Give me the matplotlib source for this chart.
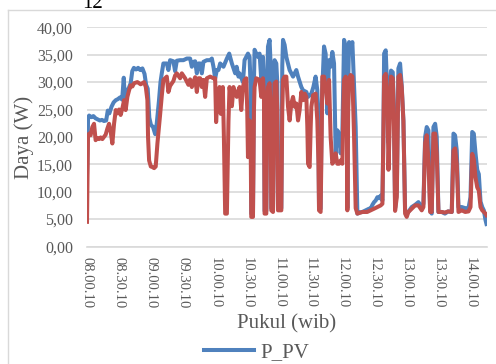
import matplotlib.pyplot as plt
from matplotlib.lines import Line2D

# time in minutes after 08.00.10, power in watt
t_pv = [0, 0.5, 1.0, 2.0, 4.0, 6.0, 8.0, 10.0, 12.0, 14.0,
        16.0, 18.0, 19.5, 21.0, 23.0, 25.0, 27.0, 29.0, 31.0, 33.0,
        34.5, 35.5, 37.0, 39.0, 41.0, 42.5, 44.0, 46.0, 48.0, 50.0,
        52.0, 54.0, 55.5, 57.0, 58.5, 60.0, 62.0, 64.0, 65.5, 67.5,
        69.0, 70.2, 71.7, 74.9, 76.4, 78.0, 81.1, 82.7, 84.3, 87.4,
        90.5, 93.7, 96.8, 98.4, 100.0, 101.5, 103.1, 104.6, 106.2, 107.8,
        109.3, 112.5, 115.6, 117.2, 118.7, 120.3, 121.9, 123.4, 125.0, 128.1,
        131.3, 133.5, 136.0, 139.1, 140.5, 142.2, 143.2, 146.4, 147.9, 151.1,
        152.6, 153.6, 154.2, 155.8, 156.7, 157.3, 158.9, 160.5, 162.0, 163.6,
        165.2, 166.1, 166.7, 168.3, 169.2, 169.9, 171.4, 172.4, 173.0, 174.6,
        175.5, 176.1, 177.7, 178.6, 179.3, 182.4, 183.3, 184.0, 185.5, 187.1,
        188.7, 190.2, 191.8, 193.4, 196.5, 198.1, 201.2, 202.8, 205.9, 207.5,
        210.6, 212.5, 214.6, 216.2, 217.3, 217.8, 219.3, 220.3, 222.5, 224.0,
        225.6, 227.2, 228.7, 230.3, 231.9, 233.4, 235.0, 236.6, 238.1, 239.7,
        240.6, 241.3, 242.8, 243.8, 244.4, 245.2, 246.0, 247.5, 249.1, 250.7,
        252.2, 253.8, 255.4, 258.5, 261.6, 264.8, 266.3, 267.9, 269.5, 271.0,
        272.6, 274.2, 275.7, 277.3, 278.2, 278.9, 280.4, 281.5, 282.9, 284.0,
        285.4, 287.0, 288.0, 289.2, 290.8, 292.3, 293.9, 295.4, 297.0, 298.6,
        300.1, 301.7, 304.8, 308.0, 311.1, 314.2, 315.8, 317.4, 318.9, 320.5,
        322.1, 323.6, 325.2, 326.8, 328.3, 329.9, 333.0, 336.0, 339.0, 342.4,
        344.0, 345.5, 347.1, 348.7, 351.8, 355.0, 358.1, 360.0, 361.6, 363.1,
        364.7, 366.3, 367.8, 369.4, 371.0, 372.5, 374.1, 375.0]
p_pv = [13.0, 17.0, 23.5, 23.9, 23.6, 23.8, 23.4, 23.2, 23.0, 23.1,
        22.9, 23.0, 24.8, 24.3, 25.5, 26.3, 26.7, 26.9, 27.2, 26.8,
        30.8, 27.0, 28.5, 28.8, 29.8, 32.0, 32.6, 32.3, 32.6, 32.2,
        32.5, 31.5, 29.5, 28.8, 23.5, 22.2, 21.8, 20.5, 22.5, 26.5,
        30.0, 31.6, 33.4, 33.4, 32.2, 34.0, 33.8, 32.0, 33.9, 34.0,
        34.0, 34.3, 34.3, 32.8, 33.7, 33.8, 31.6, 33.4, 33.4, 31.6,
        33.7, 34.0, 34.0, 34.3, 32.8, 30.7, 32.2, 32.2, 33.4, 32.8,
        34.3, 35.2, 33.4, 31.6, 32.8, 31.0, 31.6, 30.0, 34.0, 35.2,
        34.6, 29.1, 6.0, 6.0, 30.0, 35.9, 35.2, 34.6, 35.2, 30.4,
        34.6, 30.0, 6.5, 6.5, 30.0, 36.5, 37.7, 33.0, 7.0, 7.0,
        30.0, 34.0, 33.4, 30.0, 7.0, 7.0, 33.0, 37.7, 36.8, 34.6,
        33.4, 32.2, 31.6, 31.0, 32.2, 31.0, 29.1, 28.5, 28.2, 27.3,
        27.9, 29.1, 31.0, 28.5, 20.0, 7.2, 6.9, 26.0, 36.5, 35.2,
        24.3, 34.0, 32.8, 35.5, 33.4, 17.0, 21.2, 20.6, 17.0, 20.6,
        30.0, 37.7, 36.5, 30.0, 7.0, 30.0, 37.3, 36.0, 37.3, 29.1,
        21.8, 6.0, 6.2, 6.3, 6.6, 6.9, 6.9, 7.6, 8.1, 8.4,
        9.0, 8.8, 9.3, 8.4, 20.0, 35.2, 35.8, 30.0, 19.0, 28.0,
        32.1, 31.8, 26.0, 7.0, 10.0, 32.5, 33.4, 29.4, 23.0, 6.6,
        6.0, 6.3, 7.2, 7.6, 8.1, 7.2, 7.8, 20.0, 21.8, 21.2,
        6.6, 6.0, 21.8, 22.4, 20.0, 6.3, 6.3, 6.0, 6.4, 6.3,
        20.6, 20.3, 17.5, 7.2, 7.2, 7.0, 7.0, 9.0, 20.9, 20.6,
        17.0, 14.0, 13.2, 8.2, 7.2, 6.6, 4.8, 4.1]

t_load = [0, 0.3, 0.9, 1.9, 3.4, 5.0, 6.6, 8.1, 9.7, 11.3,
          12.8, 14.4, 16.0, 17.5, 19.1, 20.7, 22.2, 23.8, 25.4, 27.0,
          28.5, 30.1, 31.6, 33.2, 34.8, 36.3, 37.9, 39.5, 41.0, 42.6,
          44.2, 47.3, 50.4, 53.6, 55.2, 56.7, 57.3, 58.3, 59.9, 61.4,
          63.0, 64.5, 66.1, 67.7, 68.6, 70.2, 71.7, 74.9, 76.4, 78.0,
          81.1, 82.7, 84.3, 87.4, 89.0, 92.1, 93.7, 95.2, 96.8, 98.4,
          100.0, 101.5, 103.1, 104.6, 106.2, 107.8, 109.3, 110.9, 112.5, 115.6,
          118.7, 120.3, 121.2, 122.5, 124.4, 125.6, 127.5, 128.5, 129.7, 131.3,
          132.8, 133.8, 136.0, 137.5, 140.6, 143.2, 144.8, 146.4, 147.9, 149.5,
          150.4, 151.1, 152.6, 153.6, 154.2, 155.8, 156.7, 157.3, 158.9, 162.0,
          163.6, 165.2, 166.1, 166.7, 168.3, 169.2, 169.9, 171.4, 172.4, 173.0,
          174.6, 175.5, 176.1, 177.7, 178.6, 179.3, 182.4, 183.3, 184.0, 185.5,
          187.1, 188.7, 190.2, 191.8, 193.4, 195.0, 196.5, 198.1, 199.6, 201.2,
          202.8, 204.4, 205.9, 206.8, 207.5, 209.0, 210.0, 210.6, 212.2, 214.6,
          216.2, 217.3, 217.8, 219.3, 220.3, 220.9, 222.5, 224.0, 225.6, 227.2,
          228.7, 230.3, 231.9, 233.4, 235.0, 236.6, 238.1, 239.7, 240.6, 241.3,
          242.8, 243.8, 244.4, 245.2, 246.0, 247.5, 249.1, 250.7, 252.2, 253.8,
          258.5, 263.0, 266.3, 269.5, 272.6, 275.7, 277.3, 278.2, 278.9, 280.4,
          282.0, 283.0, 284.5, 285.4, 287.0, 288.0, 289.2, 290.8, 292.3, 293.9,
          295.4, 297.0, 298.6, 300.1, 301.7, 304.8, 308.0, 311.1, 314.2, 315.8,
          317.4, 318.9, 320.5, 322.1, 323.6, 325.2, 326.8, 328.3, 329.9, 333.0,
          336.0, 339.0, 342.4, 344.0, 345.5, 347.1, 348.7, 351.8, 355.0, 358.1,
          360.0, 361.6, 363.1, 364.7, 366.3, 367.8, 369.4, 371.0, 372.5, 374.1, 375.0]
p_load = [4.5, 10.0, 20.0, 20.6, 20.3, 21.8, 22.4, 19.4, 19.8, 19.6,
          19.9, 19.6, 20.0, 20.4, 21.5, 22.4, 21.0, 18.8, 22.4, 24.9,
          24.3, 25.0, 24.0, 25.2, 26.7, 24.9, 27.3, 28.5, 29.4, 29.2,
          29.8, 30.0, 29.6, 30.0, 29.1, 26.7, 20.0, 15.7, 14.6, 14.5,
          14.3, 14.6, 18.8, 22.0, 24.0, 27.5, 30.4, 31.0, 28.2, 29.3,
          30.2, 31.2, 31.6, 30.7, 31.6, 30.7, 30.1, 29.5, 30.5, 29.1,
          30.0, 30.9, 28.2, 30.7, 30.7, 29.1, 30.4, 27.3, 30.7, 31.0,
          30.7, 30.7, 22.7, 27.3, 29.1, 24.2, 29.1, 20.0, 6.0, 6.0,
          22.9, 29.1, 25.6, 29.1, 27.3, 29.1, 24.9, 29.1, 30.4, 30.7,
          25.0, 16.3, 23.0, 20.0, 5.4, 5.4, 25.0, 29.1, 30.7, 30.4,
          27.3, 30.7, 28.0, 6.0, 6.0, 25.0, 29.1, 29.8, 25.0, 6.6,
          6.3, 25.0, 29.8, 30.1, 25.0, 6.6, 6.6, 25.0, 30.4, 31.0,
          31.0, 25.5, 23.0, 26.1, 27.3, 25.5, 26.1, 23.0, 24.9, 28.2,
          26.7, 27.9, 27.3, 22.0, 15.1, 14.5, 22.0, 25.5, 27.6, 27.9,
          23.0, 15.0, 6.6, 6.3, 20.0, 31.0, 31.0, 29.1, 26.1, 30.4,
          20.0, 15.1, 15.7, 17.0, 15.1, 15.1, 15.7, 15.1, 25.0, 30.4,
          31.0, 25.0, 6.6, 25.0, 30.7, 31.3, 31.0, 20.0, 7.0, 6.0,
          6.3, 6.3, 6.6, 6.9, 7.2, 7.5, 7.8, 20.0, 31.0, 31.5,
          27.3, 14.0, 25.0, 31.0, 30.7, 24.9, 6.5, 9.0, 31.0, 31.3,
          29.1, 22.9, 6.0, 5.4, 6.3, 6.9, 7.5, 7.5, 6.6, 7.2,
          18.9, 20.3, 15.7, 6.3, 6.3, 20.6, 20.6, 16.9, 6.3, 6.3,
          6.2, 6.4, 6.3, 17.5, 17.9, 15.1, 6.3, 6.6, 6.3, 6.4,
          7.2, 16.9, 15.9, 12.6, 10.8, 10.2, 7.2, 6.6, 6.3, 6.0, 5.7]

tick_pos = [0, 30, 60, 90, 120, 150, 180, 210, 240, 270, 300, 330, 360]
tick_labels = ['08.00.10', '08.30.10', '09.00.10', '09.30.10', '10.00.10',
               '10.30.10', '11.00.10', '11.30.10', '12.00.10', '12.30.10',
               '13.00.10', '13.30.10', '14.00.10']
y_ticks = [0, 5, 10, 15, 20, 25, 30, 35, 40]

plt.rcParams['font.family'] = ['Liberation Serif', 'DejaVu Serif']
grey = '#595959'

fig = plt.figure(figsize=(4.96, 3.64), dpi=100)
ax = fig.add_axes([0.1754, 0.3228, 0.8065, 0.6022])

line_pv, = ax.plot(t_pv, p_pv, color='#4F81BD', lw=2.9, solid_joinstyle='round')
ax.plot(t_load, p_load, color='#C0504D', lw=2.9, solid_joinstyle='round')

ax.set_xlim(0, 375.5)
ax.set_ylim(0, 40)
ax.set_yticks(y_ticks)
ax.set_yticklabels(['%d,00' % v for v in y_ticks], fontsize=11.5, color=grey)
ax.set_xticks(tick_pos)
ax.set_xticklabels(tick_labels, rotation=-90, fontsize=10.5, color=grey, va='top')
ax.tick_params(length=0)
ax.tick_params(axis='y', pad=10)
ax.tick_params(axis='x', pad=7.5)
ax.grid(axis='y', color='#D9D9D9', lw=1.2)
ax.set_axisbelow(True)
for s in ['top', 'right', 'left']:
    ax.spines[s].set_visible(False)
ax.spines['bottom'].set_color('#D9D9D9')
ax.spines['bottom'].set_linewidth(1.2)

ax.set_xlabel('Pukul (wib)', fontsize=15, color=grey, labelpad=4)
fig.text(24.5 / 496, 1 - 137 / 364, 'Daya (W)', rotation=90, fontsize=15,
         color=grey, ha='center', va='center')

fig.legend(handles=[line_pv], labels=['P_PV'], loc='center',
           bbox_to_anchor=(256.5 / 496, 1 - 352 / 364), frameon=False,
           fontsize=15, handlelength=2.4, handletextpad=0.3, labelcolor=grey)

# chart border (cut at right and bottom) and page number above
fig.add_artist(Line2D([7.5 / 496, 7.5 / 496], [0, 1 - 10 / 364], color='#D9D9D9', lw=1))
fig.add_artist(Line2D([7.5 / 496, 1], [1 - 10 / 364, 1 - 10 / 364], color='#D9D9D9', lw=1))
fig.text(93 / 496, 1 - 8 / 364, '12', fontsize=15, color='black', ha='center', va='baseline')

fig.savefig('out.png', dpi=100)
